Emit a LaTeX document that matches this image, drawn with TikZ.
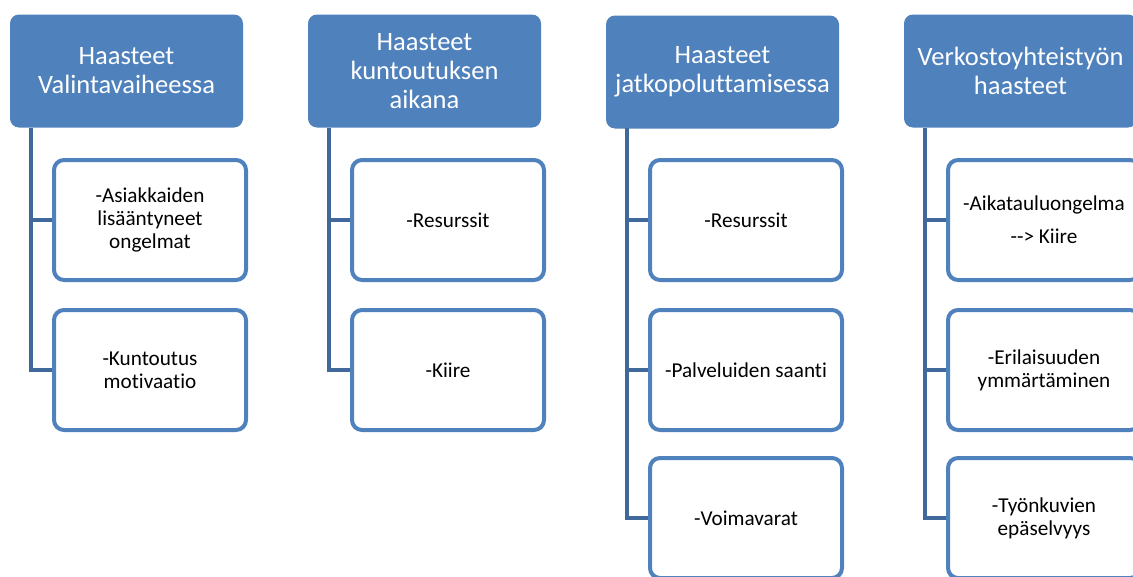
\documentclass[tikz,border=0pt]{standalone}
\usepackage{fontspec}
\newfontfamily\carlitofont[Ligatures=NoCommon]{Carlito}
\definecolor{accent}{HTML}{4F81BD}
\definecolor{connc}{HTML}{41689A}
\begin{document}
\begin{tikzpicture}[x=1pt,y=-1pt,
  head/.style={fill=accent,rounded corners=9pt,minimum width=233pt,minimum height=113pt,
    text=white,align=center,inner sep=0pt,font=\carlitofont\fontsize{26.5}{29}\selectfont},
  item/.style={draw=accent,line width=4pt,fill=white,rounded corners=10pt,minimum width=192pt,
    minimum height=120pt,align=center,inner sep=0pt,text=black,font=\carlitofont\fontsize{21.2}{22.8}\selectfont},
  conn/.style={draw=connc,line width=4.5pt}]
\useasboundingbox (0,0) rectangle (1133,576);
\clip (0,0) rectangle (1133,576);
% column 1
\node[head] (h1) at (126.5,71) {Haasteet\\Valintavaiheessa};
\coordinate (c1) at (31,128);
\node[item] (a1) at (150,220) {-Asiakkaiden\\lisääntyneet\\ongelmat};
\node[item] (a2) at (150,370) {-Kuntoutus\\motivaatio};
\draw[conn] (c1) |- (a2.west);
\draw[conn] (c1 |- a1.west) -- (a1.west);
% column 2
\node[head] (h2) at (424.5,71) {Haasteet\\kuntoutuksen\\aikana};
\coordinate (c2) at (329,128);
\node[item] (b1) at (448,220) {-Resurssit};
\node[item] (b2) at (448,370) {-Kiire};
\draw[conn] (c2) |- (b2.west);
\draw[conn] (c2 |- b1.west) -- (b1.west);
% column 3
\node[head] (h3) at (722.5,72) {Haasteet\\jatkopoluttamisessa};
\coordinate (c3) at (627,128);
\node[item] (d1) at (746,220) {-Resurssit};
\node[item] (d2) at (746,370) {-Palveluiden saanti};
\node[item] (d3) at (746,518) {-Voimavarat};
\draw[conn] (c3) |- (d3.west);
\draw[conn] (c3 |- d1.west) -- (d1.west);
\draw[conn] (c3 |- d2.west) -- (d2.west);
% column 4
\node[head] (h4) at (1020.5,71) {Verkostoyhteistyön\\haasteet};
\coordinate (c4) at (925,128);
\node[item] (e1) at (1044,220) {-Aikatauluongelma\\[10pt]-{}-{}> Kiire};
\node[item] (e2) at (1044,370) {-Erilaisuuden\\ymmärtäminen};
\node[item] (e3) at (1044,518) {-Työnkuvien\\epäselvyys};
\draw[conn] (c4) |- (e3.west);
\draw[conn] (c4 |- e1.west) -- (e1.west);
\draw[conn] (c4 |- e2.west) -- (e2.west);
\end{tikzpicture}
\end{document}
